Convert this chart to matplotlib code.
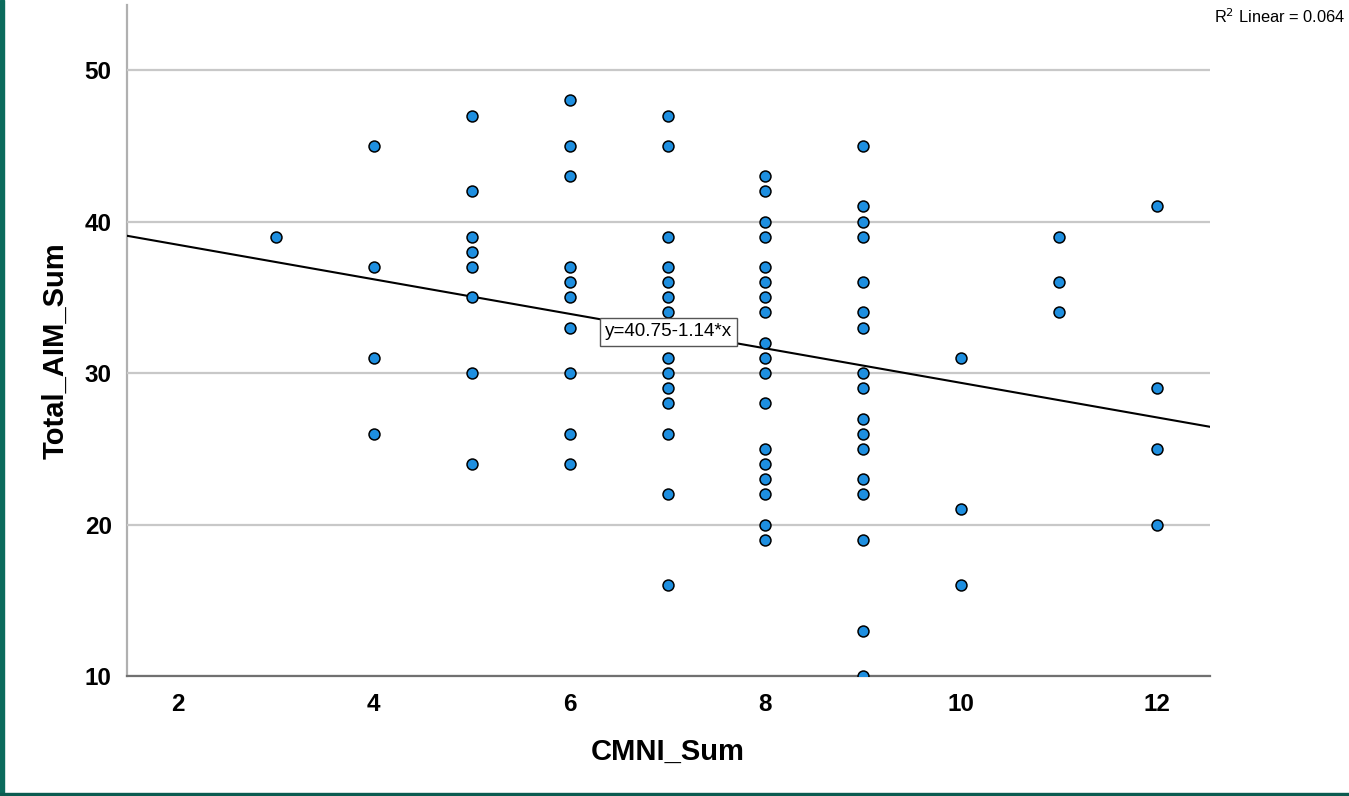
import matplotlib
matplotlib.use("Agg")
import matplotlib.pyplot as plt
import numpy as np
from matplotlib.patches import Rectangle

plt.rcParams['font.family'] = ['Liberation Sans', 'DejaVu Sans']

# Data: CMNI_Sum (x) and Total_AIM_Sum (y)
cmni_3 = [39]
cmni_4 = [45, 37, 31, 26]
cmni_5 = [47, 42, 39, 38, 37, 35, 30, 24]
cmni_6 = [48, 45, 43, 37, 36, 35, 33, 30, 26, 24]
cmni_7 = [47, 45, 39, 37, 36, 35, 34, 31, 30, 29, 28, 26, 22, 16]
cmni_8 = [43, 42, 40, 39, 37, 36, 35, 34, 32, 31, 30, 28, 25, 24, 23, 22, 20, 19]
cmni_9 = [45, 41, 40, 39, 36, 34, 33, 30, 29, 27, 26, 25, 23, 22, 19, 13, 10]
cmni_10 = [31, 21, 16]
cmni_11 = [39, 36, 34]
cmni_12 = [41, 29, 25, 20]

groups = {3: cmni_3, 4: cmni_4, 5: cmni_5, 6: cmni_6, 7: cmni_7, 8: cmni_8,
          9: cmni_9, 10: cmni_10, 11: cmni_11, 12: cmni_12}
x_vals = [k for k, v in groups.items() for _ in v]
y_vals = [val for v in groups.values() for val in v]

intercept = 40.75
slope = -1.14
r2_text = "R$^2$ Linear = 0.064"
eq_text = "y=40.75-1.14*x"

x_ticks = [2, 4, 6, 8, 10, 12]
y_ticks = [10, 20, 30, 40, 50]

fig = plt.figure(figsize=(13.49, 7.96), dpi=100)
ax = fig.add_axes([127/1349, 1-676/796, (1210-127)/1349, (676-5)/796])

xlim = (1.479, 12.541)
ylim = (10, 54.3)
ax.set_xlim(*xlim)
ax.set_ylim(*ylim)

# gridlines
for yt in y_ticks:
    ax.axhline(yt, color='#c8c8c8', lw=1.6, zorder=1)

# regression line
xx = np.array(xlim)
ax.plot(xx, intercept + slope * xx, color='black', lw=1.5, zorder=2)

ax.scatter(x_vals, y_vals, s=62, c='#1e8fe0', edgecolors='black', linewidths=1.1, zorder=3)

# equation label
lx = 6.33
ax.text(lx + 0.03, intercept + slope * lx - 0.25, eq_text, ha='left', va='top', fontsize=13.6,
        zorder=5, bbox=dict(boxstyle='square,pad=0.28', fc='white', ec='#555555', lw=1.0))

ax.set_xticks(x_ticks)
ax.set_yticks(y_ticks)
ax.tick_params(length=0, labelsize=17.5)
ax.tick_params(axis='y', pad=11)
ax.tick_params(axis='x', pad=12)
for lab in ax.get_xticklabels() + ax.get_yticklabels():
    lab.set_fontweight('bold')

for s in ['top', 'right']:
    ax.spines[s].set_visible(False)
ax.spines['left'].set_color('#b0b0b0')
ax.spines['left'].set_linewidth(1.6)
ax.spines['bottom'].set_color('#707070')
ax.spines['bottom'].set_linewidth(1.6)
ax.spines['left'].set_zorder(0.5)

ax.set_xlabel('CMNI_Sum', fontsize=21, fontweight='bold')
ax.set_ylabel('Total_AIM_Sum', fontsize=21, fontweight='bold')
ax.xaxis.set_label_coords((668-127)/1083, (676-752)/671)
ax.xaxis.label.set_va('center')
ax.yaxis.set_label_coords((55-127)/1083, 1-(351-5)/671)
ax.yaxis.label.set_va('center')

fig.text(1345/1349, 1-17/796, r2_text, ha='right', va='center', fontsize=11.8)

# frame decorations
fig.patches.append(Rectangle((0, 0), 4/1349, 1, transform=fig.transFigure,
                             color='#0b6b5c', zorder=10))
fig.patches.append(Rectangle((0, 0), 1, 3/796, transform=fig.transFigure,
                             color='#0b5b50', zorder=10))

fig.savefig('out.png', dpi=100)
